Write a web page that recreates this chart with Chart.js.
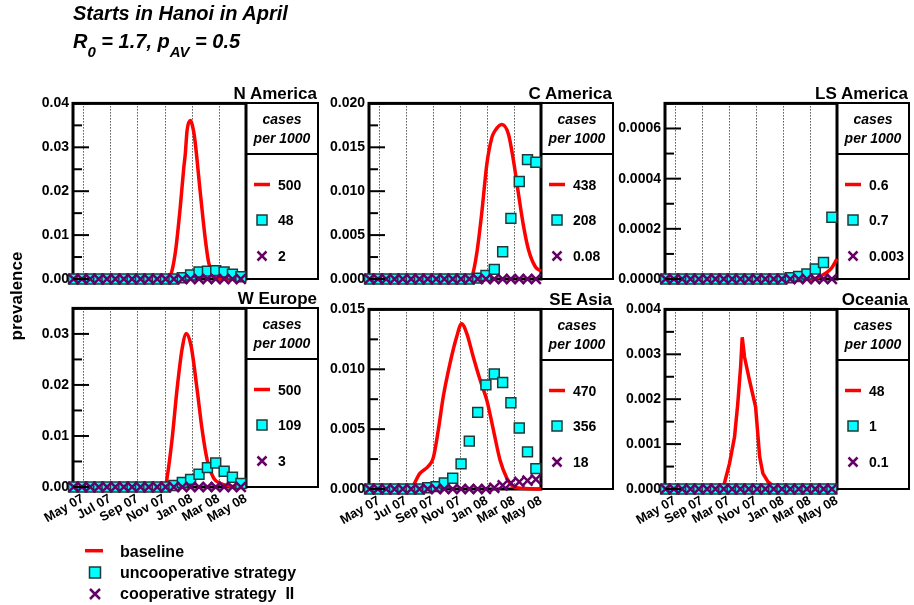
<!DOCTYPE html>
<html><head><meta charset="utf-8">
<script src="https://cdn.jsdelivr.net/npm/chart.js@4.4.1/dist/chart.umd.min.js"></script>
<style>
html,body{margin:0;padding:0;background:#fff;}
#wrap{position:relative;width:914px;height:605px;overflow:hidden;background:#fff;}
#wrap canvas{position:absolute;}
#overlay{position:absolute;left:0;top:0;pointer-events:none;}
#overlay text{font-family:'Liberation Sans',Arial,Helvetica,sans-serif;font-weight:bold;white-space:pre;fill:#000;}
</style></head><body><div id="wrap"></div>
<script>
// ---------------- data ----------------
const markerMonths = [-0.70, -0.08, 0.53, 1.15, 1.76, 2.38, 3.00, 3.61, 4.23, 4.84, 5.46, 6.08, 6.69, 7.31, 7.92, 8.54, 9.16, 9.77, 10.39, 11.00, 11.62];
const xTickMonths = [0, 2, 4, 6, 8, 10, 12];
const xTickLabels = ['May 07', 'Jul 07', 'Sep 07', 'Nov 07', 'Jan 08', 'Mar 08', 'May 08'];
const xTickLabelsOceania = ['May 07', 'Sep 07', 'Mar 07', 'Nov 07', 'Jan 08', 'Mar 08', 'May 08'];

const regionNames = ['N America', 'C America', 'LS America', 'W Europe', 'SE Asia', 'Oceania'];
const casesBaseline = ['500', '438', '0.6', '500', '470', '48'];
const casesUncoop = ['48', '208', '0.7', '109', '356', '1'];
const casesCoop = ['2', '0.08', '0.003', '3', '18', '0.1'];

const yTicksNAm = [0, 0.01, 0.02, 0.03, 0.04];
const yTicksCAm = [0, 0.005, 0.010, 0.015, 0.020];
const yTicksLSAm = [0, 0.0002, 0.0004, 0.0006];
const yTicksWEu = [0, 0.01, 0.02, 0.03];
const yTicksSEAs = [0, 0.005, 0.010, 0.015];
const yTicksOce = [0, 0.001, 0.002, 0.003, 0.004];

// baseline (red curves)
const baseXNAm = [-0.74, 6.2, 6.45, 6.79, 7.16, 7.41, 7.53, 7.66, 7.9, 8.15, 8.27, 8.64, 9.01, 9.26, 9.6, 10.0, 12.0];
const baseYNAm = [0, 0, 0.0008, 0.0059, 0.0164, 0.0251, 0.0285, 0.0338, 0.0361, 0.0335, 0.0308, 0.0195, 0.0089, 0.0036, 0.0008, 0, 0];
const baseXCAm = [-0.74, 6.7, 6.87, 7.24, 7.61, 7.99, 8.36, 8.6, 9.1, 9.59, 9.96, 10.33, 10.71, 11.08, 11.58, 12.0];
const baseYCAm = [0, 0, 0.0002, 0.0029, 0.0075, 0.0131, 0.0161, 0.0169, 0.0176, 0.0165, 0.0135, 0.0097, 0.0060, 0.0033, 0.0014, 0.0009];
const baseXLSAm = [-0.74, 10.2, 10.97, 11.3, 11.6, 12.0];
const baseYLSAm = [0, 0, 0.000017, 0.000028, 0.000044, 0.00008];
const baseXWEu = [-0.74, 6.05, 6.18, 6.55, 6.92, 7.29, 7.61, 7.96, 8.4, 8.77, 9.14, 9.63, 10.13, 10.6, 11.2, 12.0];
const baseYWEu = [0, 0, 0.0017, 0.0092, 0.0191, 0.0270, 0.0301, 0.0276, 0.0191, 0.0112, 0.0053, 0.0017, 0.0007, 0.0003, 0, 0];
const baseXSEAs = [-0.74, 2.28, 3.03, 3.65, 4.02, 4.39, 4.76, 5.26, 5.75, 6.12, 6.5, 6.99, 7.49, 7.99, 8.48, 8.97, 9.47, 9.84, 10.2, 12.0];
const baseYSEAs = [0, 0, 0.0013, 0.0019, 0.0026, 0.0049, 0.0077, 0.0105, 0.0127, 0.0138, 0.0130, 0.0110, 0.0091, 0.0074, 0.0049, 0.0024, 0.0009, 0.0003, 0.0001, 0];
const baseXOce = [-0.74, 3.55, 4.04, 4.41, 4.65, 4.86, 4.98, 5.15, 5.52, 5.97, 6.07, 6.27, 6.51, 6.89, 7.4, 12.0];
const baseYOce = [0, 0, 0.00057, 0.00116, 0.0019, 0.00272, 0.00338, 0.00294, 0.00242, 0.00183, 0.00146, 0.00072, 0.00035, 0.00016, 0.00004, 0];

// uncooperative strategy (squares)
const uncoopNAm = [0, 0, 0, 0, 0, 0, 0, 0, 0, 0, 0, 0, 0, 0.0003, 0.0009, 0.0016, 0.0018, 0.0019, 0.0016, 0.0011, 0.0005];
const uncoopCAm = [0, 0, 0, 0, 0, 0, 0, 0, 0, 0, 0, 0, 0, 0.0001, 0.0004, 0.0011, 0.0031, 0.0069, 0.0111, 0.0136, 0.0133];
const uncoopLSAm = [0, 0, 0, 0, 0, 0, 0, 0, 0, 0, 0, 0, 0, 0, 0, 0.000005, 0.00001, 0.00002, 0.00004, 0.000066, 0.000246];
const uncoopWEu = [0, 0, 0, 0, 0, 0, 0, 0, 0, 0, 0, 0, 0.0003, 0.0009, 0.0015, 0.0025, 0.0038, 0.0047, 0.0031, 0.0019, 0.0007];
const uncoopSEAs = [0, 0, 0, 0, 0, 0, 0, 0.0001, 0.0002, 0.0005, 0.0009, 0.0021, 0.0040, 0.0064, 0.0087, 0.0096, 0.0089, 0.0072, 0.0051, 0.0031, 0.0017];
const uncoopOce = [0, 0, 0, 0, 0, 0, 0, 0, 0, 0, 0, 0, 0, 0, 0, 0, 0, 0, 0, 0, 0];

// cooperative strategy II (crosses)
const coopNAm = [0, 0, 0, 0, 0, 0, 0, 0, 0, 0, 0, 0, 0, 0, 0, 0, 0, 0, 0, 0, 0];
const coopCAm = [0, 0, 0, 0, 0, 0, 0, 0, 0, 0, 0, 0, 0, 0, 0, 0, 0, 0, 0, 0, 0];
const coopLSAm = [0, 0, 0, 0, 0, 0, 0, 0, 0, 0, 0, 0, 0, 0, 0, 0, 0, 0, 0, 0, 0];
const coopWEu = [0, 0, 0, 0, 0, 0, 0, 0, 0, 0, 0, 0, 0, 0, 0, 0, 0, 0, 0, 0, 0];
const coopSEAs = [0, 0, 0, 0, 0, 0, 0, 0, 0, 0, 0, 0, 0, 0, 0, 0.0001, 0.0003, 0.0005, 0.0006, 0.0007, 0.0008];
const coopOce = [0, 0, 0, 0, 0, 0, 0, 0, 0, 0, 0, 0, 0, 0, 0, 0, 0, 0, 0, 0, 0];

// ---------------- layout ----------------
const panels = [
  {L: 73,  T: 103, R: 246, B: 279, yMax: 0.04,   yTicks: yTicksNAm,  dec: 2, bx: baseXNAm,  by: baseYNAm,  un: uncoopNAm,  co: coopNAm,  xl: null},
  {L: 369, T: 103, R: 541, B: 279, yMax: 0.020,  yTicks: yTicksCAm,  dec: 3, bx: baseXCAm,  by: baseYCAm,  un: uncoopCAm,  co: coopCAm,  xl: null},
  {L: 665, T: 103, R: 837, B: 279, yMax: 0.0007, yTicks: yTicksLSAm, dec: 4, bx: baseXLSAm, by: baseYLSAm, un: uncoopLSAm, co: coopLSAm, xl: null},
  {L: 73,  T: 308, R: 246, B: 487, yMax: 0.035,  yTicks: yTicksWEu,  dec: 2, bx: baseXWEu,  by: baseYWEu,  un: uncoopWEu,  co: coopWEu,  xl: xTickLabels},
  {L: 369, T: 309, R: 541, B: 489, yMax: 0.015,  yTicks: yTicksSEAs, dec: 3, bx: baseXSEAs, by: baseYSEAs, un: uncoopSEAs, co: coopSEAs, xl: xTickLabels},
  {L: 665, T: 309, R: 837, B: 489, yMax: 0.004,  yTicks: yTicksOce,  dec: 3, bx: baseXOce,  by: baseYOce,  un: uncoopOce,  co: coopOce,  xl: xTickLabelsOceania, linear: true}
];
const AXW = 70, AXH = 60, PADT = 12, PADR = 14;
const FONT = "'Liberation Sans', Arial, Helvetica, sans-serif";
Chart.defaults.font.family = FONT;
Chart.defaults.font.weight = 'bold';
Chart.defaults.color = '#000';

const framePlugin = {
  id: 'frame',
  beforeDatasetsDraw(chart) {
    const {ctx, chartArea: a, scales: {x}} = chart;
    ctx.save();
    ctx.strokeStyle = '#000';
    ctx.lineWidth = 1;
    ctx.setLineDash([1, 2]);
    for (const v of xTickMonths) {
      if (v <= x.min || v >= x.max) continue;
      const px = Math.round(x.getPixelForValue(v)) + 0.5;
      ctx.beginPath(); ctx.moveTo(px, a.top); ctx.lineTo(px, a.bottom); ctx.stroke();
    }
    ctx.setLineDash([]);
    ctx.lineWidth = 3;
    ctx.strokeRect(a.left, a.top, a.right - a.left, a.bottom - a.top);
    ctx.restore();
  },
  afterDatasetsDraw(chart, args, opts) {
    const {ctx, chartArea: a, scales: {y}} = chart;
    const major = opts.major;
    const half = (major[1] - major[0]) / 2;
    ctx.save();
    ctx.strokeStyle = '#000';
    ctx.lineWidth = 2;
    for (let k = 0; k * half <= y.max * (1 + 1e-9); k++) {
      const py = y.getPixelForValue(k * half);
      const len = (k % 2 === 0) ? 16 : 9;
      ctx.beginPath(); ctx.moveTo(a.left, py); ctx.lineTo(a.left + len, py); ctx.stroke();
    }
    ctx.restore();
  }
};

const wrap = document.getElementById('wrap');
panels.forEach((p) => {
  const cv = document.createElement('canvas');
  const w = (p.R - p.L) + AXW + PADR;
  const h = (p.B - p.T) + PADT + AXH;
  cv.width = w; cv.height = h;
  cv.style.left = (p.L - AXW) + 'px';
  cv.style.top = (p.T - PADT) + 'px';
  cv.style.width = w + 'px'; cv.style.height = h + 'px';
  wrap.appendChild(cv);
  const labels = p.xl || xTickLabels;
  new Chart(cv, {
    type: 'scatter',
    data: {
      datasets: [
        {data: markerMonths.map((m, i) => ({x: m, y: p.co[i]})), pointStyle: 'crossRot', pointRadius: 7,
         borderColor: '#660066', backgroundColor: '#660066', pointBorderWidth: 2.5, showLine: false, clip: false, order: 0},
        {data: markerMonths.map((m, i) => ({x: m, y: p.un[i]})), pointStyle: 'rect', pointRadius: 7,
         backgroundColor: '#00ffff', borderColor: '#1e3a3a', pointBorderWidth: 1.5, showLine: false, clip: false, order: 1},
        {data: p.bx.map((m, i) => ({x: m, y: p.by[i]})), showLine: true, borderColor: '#ff0000', borderWidth: 3.5,
         pointRadius: 0, cubicInterpolationMode: p.linear ? 'default' : 'monotone', tension: p.linear ? 0 : 0.4,
         clip: false, order: 2}
      ]
    },
    options: {
      responsive: false, animation: false, events: [], devicePixelRatio: 1,
      layout: {padding: {left: 0, top: PADT, right: PADR, bottom: 0}},
      plugins: {legend: {display: false}, tooltip: {enabled: false}, frame: {major: p.yTicks}},
      scales: {
        x: {
          type: 'linear', min: -0.74, max: 12,
          grid: {display: false, drawTicks: false}, border: {display: false},
          afterBuildTicks: (s) => { s.ticks = xTickMonths.map(v => ({value: v})); },
          afterFit: (s) => { s.height = AXH; },
          ticks: {display: !!p.xl, autoSkip: false, minRotation: 30, maxRotation: 30, padding: 4,
                  color: '#000', font: {size: 13, weight: 'bold'},
                  callback: (v) => labels[xTickMonths.indexOf(v)]}
        },
        y: {
          type: 'linear', min: 0, max: p.yMax,
          grid: {display: false, drawTicks: false}, border: {display: false},
          afterBuildTicks: (s) => { s.ticks = p.yTicks.map(v => ({value: v})); },
          afterFit: (s) => { s.width = AXW; },
          ticks: {autoSkip: false, padding: 4, color: '#000', font: {size: 14, weight: 'bold'},
                  callback: (v) => Number(v).toFixed(p.dec)}
        }
      }
    },
    plugins: [framePlugin]
  });
});

// ---------------- overlay text / legend boxes ----------------
const NS = 'http://www.w3.org/2000/svg';
const svg = document.createElementNS(NS, 'svg');
svg.setAttribute('id', 'overlay');
svg.setAttribute('width', '914'); svg.setAttribute('height', '605');
wrap.appendChild(svg);
function el(tag, attrs, text) {
  const e = document.createElementNS(NS, tag);
  for (const k in attrs) e.setAttribute(k, attrs[k]);
  if (text !== undefined) e.textContent = text;
  svg.appendChild(e);
  return e;
}
function cross(cx, cy, h, sw) {
  el('path', {d: `M${cx - h},${cy - h}L${cx + h},${cy + h}M${cx - h},${cy + h}L${cx + h},${cy - h}`,
              stroke: '#660066', 'stroke-width': sw, fill: 'none'});
}

// title
el('text', {x: 73, y: 20, 'font-size': 20, 'font-style': 'italic'}, 'Starts in Hanoi in April');
const t2 = el('text', {x: 73, y: 47.5, 'font-size': 20, 'font-style': 'italic'});
t2.innerHTML = '<tspan>R</tspan><tspan font-size="15" dy="9">0</tspan><tspan dy="-9"> = 1.7, p</tspan><tspan font-size="15" dy="9">AV</tspan><tspan dy="-9"> = 0.5</tspan>';

// y axis title
el('text', {transform: 'translate(22,296) rotate(-90)', 'text-anchor': 'middle', 'font-size': 17}, 'prevalence');

panels.forEach((p, i) => {
  const R = p.R, T = p.T, B = p.B, W = 72;
  el('text', {x: R + 71, y: T - 4.5, 'text-anchor': 'end', 'font-size': 17}, regionNames[i]);
  el('path', {d: `M${R},${T}H${R + W}V${B}H${R}M${R},${T + 51}H${R + W}`, stroke: '#000', 'stroke-width': 2, fill: 'none'});
  el('text', {x: R + W / 2, y: T + 21, 'text-anchor': 'middle', 'font-size': 14, 'font-style': 'italic'}, 'cases');
  el('text', {x: R + W / 2, y: T + 40, 'text-anchor': 'middle', 'font-size': 14, 'font-style': 'italic'}, 'per 1000');
  const y1 = T + 81.5, y2 = T + 117, y3 = T + 153;
  el('path', {d: `M${R + 8},${y1}H${R + 24}`, stroke: '#ff0000', 'stroke-width': 3.5});
  el('text', {x: R + 32, y: y1 + 5, 'font-size': 14}, casesBaseline[i]);
  el('rect', {x: R + 11, y: y2 - 5, width: 10, height: 10, fill: '#00ffff', stroke: '#1e3a3a', 'stroke-width': 1.5});
  el('text', {x: R + 32, y: y2 + 5, 'font-size': 14}, casesUncoop[i]);
  cross(R + 16, y3, 4.5, 2.5);
  el('text', {x: R + 32, y: y3 + 5, 'font-size': 14}, casesCoop[i]);
});

// bottom legend
el('path', {d: 'M85,550.7H103', stroke: '#ff0000', 'stroke-width': 3.5});
el('text', {x: 120, y: 557, 'font-size': 16}, 'baseline');
el('rect', {x: 89.5, y: 567, width: 11, height: 11, fill: '#00ffff', stroke: '#1e3a3a', 'stroke-width': 1.5});
el('text', {x: 120, y: 577.5, 'font-size': 16}, 'uncooperative strategy');
cross(95, 594, 5, 2.5);
el('text', {x: 120, y: 599, 'font-size': 16}, 'cooperative strategy  II');
</script>
</body></html>
